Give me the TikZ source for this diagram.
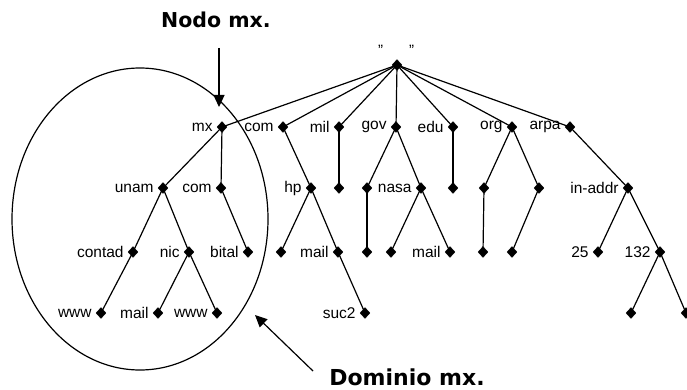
\documentclass[tikz,border=0pt]{standalone}
\usepackage{fontspec}
\setmainfont{Liberation Sans}
\newfontfamily\calloutfont{DejaVu Sans}
\usetikzlibrary{shapes.geometric,arrows.meta}
\begin{document}
\begin{tikzpicture}[x=1pt,y=-1pt,
  dot/.style={diamond,fill=black,draw=black,inner sep=0pt,minimum width=10pt,minimum height=11pt},
  lab/.style={font=\fontsize{15.5}{18}\selectfont,inner sep=1.5pt},
  title/.style={font=\calloutfont\bfseries,anchor=base,inner sep=0pt},
  edge/.style={line width=1.2pt},
  pointer/.style={line width=1.2pt,-{Triangle[length=12pt,width=11pt]}},
  every label/.style={lab},
  label distance=2.5pt]
\useasboundingbox (0,0) rectangle (687,390);

% root of the name tree
\node[dot] (root) at (397,65) {};
\node[anchor=base,font=\fontsize{15}{18}\selectfont] (rootname) at (396,56) {"\hspace{26pt}"};

% top-level domains
\node[dot,label=left:mx]   (mx)   at (222,127) {};
\node[dot,label=left:com]  (com)  at (283,127) {};
\node[dot,label=left:mil]  (mil)  at (339,127) {};
\node[dot,label=left:gov]  (gov)  at (396,127) {};
\node[dot,label=left:edu]  (edu)  at (453,127) {};
\node[dot,label=left:org]  (org)  at (512,127) {};
\node[dot,label=left:arpa] (arpa) at (570,127) {};

% second level
\node[dot,label=left:unam]    (unam)   at (163,188) {};
\node[dot,label=left:com]     (mxcom)  at (221,188) {};
\node[dot,label=left:hp]      (hp)     at (311,188) {};
\node[dot]                    (milA)   at (339,188) {};
\node[dot]                    (govA)   at (367,188) {};
\node[dot,label=left:nasa]    (nasa)   at (421,188) {};
\node[dot]                    (eduA)   at (453,188) {};
\node[dot]                    (orgA)   at (484,188) {};
\node[dot]                    (orgB)   at (539,188) {};
\node[dot,label=left:in-addr] (inaddr) at (628,188) {};

% third level
\node[dot,label=left:contad] (contad)   at (133,252) {};
\node[dot,label=left:nic]    (nic)      at (189,252) {};
\node[dot,label=left:bital]  (bital)    at (248,252) {};
\node[dot]                   (hpA)      at (281,252) {};
\node[dot,label=left:mail]   (hpmail)   at (338,252) {};
\node[dot]                   (govAA)    at (367,252) {};
\node[dot]                   (nasaA)    at (391,252) {};
\node[dot,label=left:mail]   (nasamail) at (450,252) {};
\node[dot]                   (orgAA)    at (483,252) {};
\node[dot]                   (orgBB)    at (512,252) {};
\node[dot,label=left:25]     (n25)      at (598,252) {};
\node[dot,label=left:132]    (n132)     at (660,252) {};

% fourth level
\node[dot,label=left:www]  (wwwA)  at (101,313) {};
\node[dot,label=left:mail] (nmail) at (158,313) {};
\node[dot,label=left:www]  (wwwB)  at (217,313) {};
\node[dot,label=left:suc2] (suc2)  at (365,313) {};
\node[dot]                 (ipA)   at (631,313) {};
\node[dot]                 (ipB)   at (686,313) {};

% branches
\foreach \a/\b in {root/mx,root/com,root/mil,root/gov,root/edu,root/org,root/arpa,
    mx/unam,mx/mxcom,com/hp,mil/milA,gov/govA,gov/nasa,edu/eduA,org/orgA,org/orgB,arpa/inaddr,
    unam/contad,unam/nic,mxcom/bital,hp/hpA,hp/hpmail,govA/govAA,nasa/nasaA,nasa/nasamail,
    orgA/orgAA,orgB/orgBB,inaddr/n25,inaddr/n132,
    contad/wwwA,nic/nmail,nic/wwwB,hpmail/suc2,n132/ipA,n132/ipB}
  \draw[edge] (\a.center) -- (\b.center);

% the mx domain
\node[draw,ellipse,line width=1.2pt,minimum width=256pt,minimum height=302pt] (domain) at (140,219) {};

% callouts
\node[title,font=\calloutfont\bfseries\fontsize{20.5}{24}\selectfont] (nodolabel) at (216,28) {Nodo mx.};
\coordinate (nodotail) at (219,48);
\coordinate (nodotip) at (219,107);
\draw[pointer] (nodotail) -- (nodotip);

\node[title,font=\calloutfont\bfseries\fontsize{22}{26}\selectfont] (dominiolabel) at (407,385) {Dominio mx.};
\coordinate (domtail) at (313,371);
\coordinate (domtip) at (255,315);
\draw[pointer] (domtail) -- (domtip);
\end{tikzpicture}
\end{document}
